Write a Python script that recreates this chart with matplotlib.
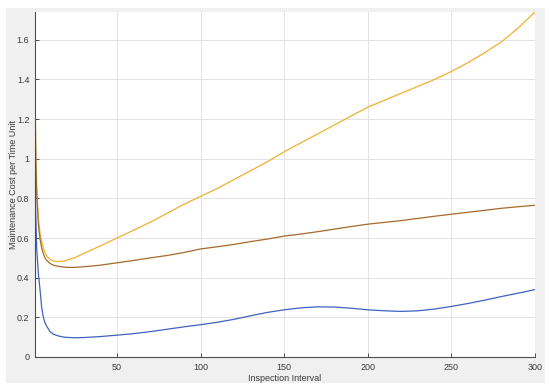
import numpy as np
import matplotlib
matplotlib.use("Agg")
from matplotlib import pyplot as plt
from matplotlib.patches import Rectangle

# inspection interval (x) and cost per time unit for the three curves
x_vals = [1, 1.5, 2, 3, 4, 5, 6, 7, 8, 10, 12, 15, 18, 20, 25, 30, 40, 50, 60, 70, 80, 90,
          100, 110, 120, 130, 140, 150, 160, 170, 180, 190, 200, 210, 220, 230, 240,
          250, 260, 270, 280, 290, 300]
cost_yellow = [1.36, 1.0, 0.85, 0.70, 0.625, 0.58, 0.55, 0.525, 0.51, 0.493, 0.484, 0.481,
               0.484, 0.488, 0.502, 0.522, 0.56, 0.60, 0.64, 0.68, 0.725, 0.77,
               0.81, 0.85, 0.895, 0.94, 0.985, 1.035, 1.08, 1.125, 1.17, 1.215,
               1.26, 1.295, 1.33, 1.365, 1.40, 1.44, 1.485, 1.535, 1.59, 1.66, 1.74]
cost_brown = [1.35, 0.98, 0.83, 0.67, 0.595, 0.55, 0.52, 0.50, 0.487, 0.472, 0.463, 0.457,
              0.454, 0.452, 0.452, 0.455, 0.463, 0.475, 0.487, 0.50, 0.512, 0.527,
              0.545, 0.556, 0.568, 0.582, 0.595, 0.61, 0.62, 0.632, 0.645, 0.658,
              0.67, 0.679, 0.688, 0.699, 0.71, 0.72, 0.73, 0.74, 0.75, 0.758, 0.765]
cost_blue = [0.95, 0.70, 0.55, 0.42, 0.34, 0.25, 0.20, 0.172, 0.155, 0.128, 0.115, 0.106,
             0.101, 0.099, 0.097, 0.098, 0.103, 0.11, 0.118, 0.128, 0.14, 0.152,
             0.163, 0.175, 0.19, 0.208, 0.225, 0.238, 0.248, 0.253, 0.252, 0.246,
             0.238, 0.233, 0.230, 0.233, 0.242, 0.255, 0.27, 0.287, 0.305, 0.322, 0.34]

plt.rcParams['font.family'] = ['Liberation Sans', 'DejaVu Sans']

fig = plt.figure(figsize=(5.5, 3.9), dpi=100, facecolor='white')
# grey MATLAB-like figure panel
fig.patches.append(Rectangle((6/550, 7/390), 539/550, 375/390, transform=fig.transFigure,
                             facecolor='#f0f0f0', edgecolor='none', zorder=-10))
ax = fig.add_axes([35/550, 33/390, 500/550, 345/390])
ax.set_facecolor('white')

ax.plot(x_vals, cost_yellow, color='#f0b030', lw=0.9)
ax.plot(x_vals, cost_brown, color='#a5692a', lw=0.9)
ax.plot(x_vals, cost_blue, color='#3f62c0', lw=0.9)

ax.set_xlim(1, 300)
ax.set_ylim(0, 1.74)
ax.set_xticks([50, 100, 150, 200, 250, 300])
ax.set_yticks([0, 0.2, 0.4, 0.6, 0.8, 1.0, 1.2, 1.4, 1.6])
ax.set_yticklabels(['0', '0.2', '0.4', '0.6', '0.8', '1', '1.2', '1.4', '1.6'])
ax.grid(True, color='#e3e3e3', lw=0.7)
ax.set_axisbelow(True)
for s in ['top', 'right']:
    ax.spines[s].set_visible(False)
for s in ['left', 'bottom']:
    ax.spines[s].set_color('#4d4d4d')
    ax.spines[s].set_linewidth(0.8)
ax.tick_params(direction='in', length=3, width=0.7, colors='#4d4d4d', labelsize=6.5,
               labelcolor='#3a3a3a', pad=4)
ax.set_xlabel('Inspection Interval', fontsize=6.5, color='#3a3a3a', labelpad=2)
ax.set_ylabel('Maintenance Cost per Time Unit', fontsize=6.5, color='#3a3a3a', labelpad=-1)

fig.savefig('out.png', dpi=100, facecolor='white')
